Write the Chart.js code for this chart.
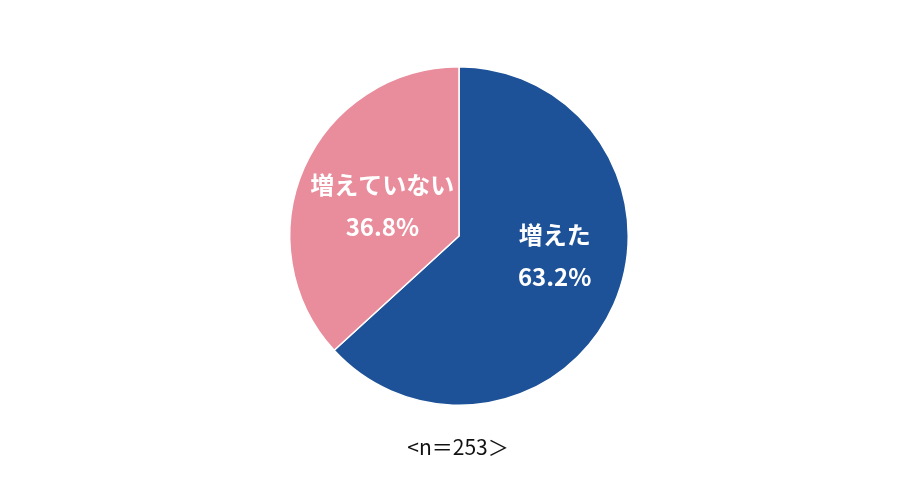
<!DOCTYPE html>
<html lang="ja">
<head>
    <meta charset="UTF-8">
    <script src="https://cdn.jsdelivr.net/npm/chart.js"></script>
    <title>Pie</title>
    <style>
        html, body { margin: 0; padding: 0; background: #fff; }
        .container { width: 900px; height: 503px; }
    </style>
</head>
<body>
    <div class="container">
        <canvas id="mychart" width="900" height="503"></canvas>
    </div>

    <script>
        const categories = ["増えた", "増えていない"];
        const values = [63.2, 36.8];
        const sampleLabel = "<n＝253＞";

        // where each label block sits, relative to centre, in units of radius
        const labelOffsets = [[0.565, 0.115], [-0.453, -0.176]];

        const sliceLabels = {
            id: 'sliceLabels',
            afterDraw(chart) {
                const ctx = chart.ctx;
                const arc = chart.getDatasetMeta(0).data[0];
                const cx = arc.x, cy = arc.y, r = arc.outerRadius;
                ctx.save();
                ctx.fillStyle = '#ffffff';
                ctx.textAlign = 'center';
                ctx.textBaseline = 'middle';
                ctx.font = 'bold 24px "Noto Sans CJK JP"';
                categories.forEach((name, i) => {
                    const x = cx + labelOffsets[i][0] * r;
                    const y = cy + labelOffsets[i][1] * r;
                    ctx.fillText(name, x, y - 21);
                    ctx.fillText(values[i].toFixed(1) + '%', x, y + 21);
                });
                ctx.fillStyle = '#111111';
                ctx.font = '21px "Noto Sans CJK JP"';
                ctx.fillText(sampleLabel, cx - 1, cy + r + 42);
                ctx.restore();
            }
        };

        let mychart = document.getElementById("mychart").getContext('2d');
        let charts = new Chart(mychart, {
            type: 'pie',
            data: {
                labels: categories,
                datasets: [{
                    data: values,
                    backgroundColor: ["#1d5298", "#e98c9b"],
                    borderColor: '#ffffff',
                    borderWidth: 1.5
                }]
            },
            options: {
                responsive: false,
                animation: false,
                layout: {
                    padding: { top: 66, bottom: 97, left: 18, right: 0 }
                },
                plugins: {
                    legend: { display: false },
                    tooltip: { enabled: false }
                }
            },
            plugins: [sliceLabels]
        });
    </script>
</body>
</html>
